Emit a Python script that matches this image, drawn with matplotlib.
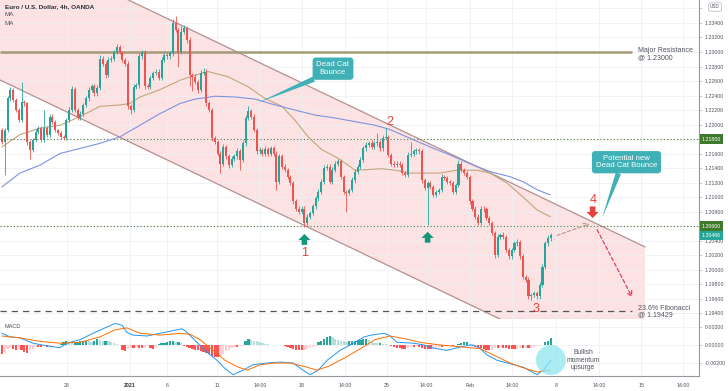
import numpy as np
import matplotlib.pyplot as plt
import matplotlib.transforms as mtransforms
from matplotlib.patches import Ellipse, Polygon

plt.rcParams['font.family'] = ['Liberation Sans', 'DejaVu Sans']

# ---- EUR/USD 4h candles ----
first_open = 1.2192
closes = [
    1.2176, 1.2192, 1.2236, 1.2248, 1.2234, 1.2220, 1.2206, 1.2231, 1.2229, 1.2176,
    1.2165, 1.2179, 1.2190, 1.2195, 1.2179, 1.2195, 1.2186, 1.2211, 1.2204, 1.2192,
    1.2188, 1.2183, 1.2181, 1.2206, 1.2220, 1.2249, 1.2220, 1.2209, 1.2215, 1.2227,
    1.2236, 1.2248, 1.2253, 1.2243, 1.2251, 1.2291, 1.2284, 1.2268, 1.2289, 1.2291,
    1.2300, 1.2307, 1.2300, 1.2289, 1.2284, 1.2225, 1.2220, 1.2252, 1.2254, 1.2294,
    1.2300, 1.2253, 1.2252, 1.2264, 1.2271, 1.2273, 1.2264, 1.2289, 1.2296, 1.2294,
    1.2298, 1.2340, 1.2330, 1.2300, 1.2328, 1.2333, 1.2317, 1.2268, 1.2266, 1.2259,
    1.2248, 1.2271, 1.2273, 1.2229, 1.2220, 1.2181, 1.2176, 1.2160, 1.2146, 1.2169,
    1.2156, 1.2144, 1.2153, 1.2156, 1.2163, 1.2151, 1.2174, 1.2209, 1.2218, 1.2211,
    1.2192, 1.2163, 1.2165, 1.2160, 1.2166, 1.2160, 1.2167, 1.2160, 1.2121, 1.2156,
    1.2142, 1.2137, 1.2128, 1.2119, 1.2094, 1.2084, 1.2080, 1.2084, 1.2064, 1.2073,
    1.2078, 1.2087, 1.2098, 1.2107, 1.2121, 1.2140, 1.2142, 1.2121, 1.2137, 1.2146,
    1.2149, 1.2128, 1.2107, 1.2106, 1.2110, 1.2123, 1.2135, 1.2142, 1.2151, 1.2167,
    1.2172, 1.2174, 1.2169, 1.2174, 1.2176, 1.2167, 1.2181, 1.2183, 1.2158, 1.2146,
    1.2144, 1.2146, 1.2144, 1.2133, 1.2130, 1.2158, 1.2160, 1.2163, 1.2165, 1.2163,
    1.2123, 1.2112, 1.2119, 1.2114, 1.2103, 1.2107, 1.2110, 1.2128, 1.2126, 1.2121,
    1.2119, 1.2107, 1.2117, 1.2146, 1.2137, 1.2133, 1.2128, 1.2094, 1.2084, 1.2073,
    1.2064, 1.2084, 1.2083, 1.2071, 1.2064, 1.2050, 1.2020, 1.2045, 1.2048, 1.2045,
    1.2027, 1.2018, 1.2027, 1.2036, 1.2038, 1.2018, 1.1990, 1.1986, 1.1963, 1.1965,
    1.1967, 1.1963, 1.1979, 1.2004, 1.2036, 1.2043, 1.2047,
]
# wick lengths in pips beyond the body
upper_wick = [
    3, 3, 3, 4, 2, 3, 3, 28, 3, 2,
    3, 3, 4, 3, 3, 25, 3, 4, 3, 2,
    2, 3, 2, 3, 4, 4, 3, 3, 3, 3,
    3, 4, 3, 3, 3, 5, 3, 3, 4, 3,
    3, 4, 3, 2, 3, 3, 3, 4, 3, 4,
    3, 3, 3, 4, 3, 3, 3, 4, 3, 3,
    3, 5, 10, 3, 8, 4, 3, 3, 3, 4,
    3, 4, 5, 3, 3, 3, 3, 3, 3, 4,
    3, 3, 3, 3, 4, 3, 4, 4, 7, 3,
    3, 3, 4, 3, 4, 3, 4, 3, 3, 4,
    3, 3, 3, 3, 3, 3, 3, 4, 3, 4,
    3, 4, 4, 4, 4, 4, 3, 3, 4, 4,
    3, 3, 3, 3, 3, 4, 4, 4, 4, 4,
    4, 3, 4, 3, 12, 3, 4, 12, 3, 3,
    3, 3, 3, 3, 3, 4, 16, 3, 3, 3,
    3, 3, 3, 3, 3, 3, 3, 4, 3, 3,
    3, 3, 3, 5, 3, 3, 3, 3, 3, 3,
    3, 4, 3, 3, 3, 3, 3, 4, 3, 4,
    3, 3, 3, 4, 4, 3, 3, 3, 3, 3,
    3, 3, 4, 4, 4, 4, 4,
]
lower_wick = [
    3, 46, 3, 3, 3, 3, 3, 3, 3, 4,
    12, 3, 3, 3, 3, 3, 3, 3, 3, 3,
    3, 3, 3, 3, 3, 3, 3, 3, 3, 3,
    3, 3, 3, 3, 3, 3, 3, 4, 3, 3,
    3, 3, 3, 3, 3, 4, 5, 3, 3, 3,
    3, 4, 3, 3, 3, 3, 3, 3, 3, 3,
    3, 3, 3, 20, 3, 3, 5, 15, 20, 3,
    4, 3, 3, 4, 3, 4, 3, 4, 13, 3,
    3, 4, 3, 3, 3, 14, 3, 3, 3, 3,
    3, 3, 3, 3, 3, 3, 3, 3, 11, 3,
    3, 3, 3, 3, 3, 3, 3, 3, 6, 3,
    3, 3, 3, 3, 3, 3, 3, 3, 3, 3,
    3, 3, 3, 26, 3, 3, 3, 3, 3, 3,
    3, 3, 3, 3, 3, 3, 3, 3, 3, 3,
    3, 3, 3, 3, 3, 3, 3, 3, 3, 3,
    3, 3, 51, 3, 3, 3, 3, 3, 3, 3,
    3, 3, 3, 3, 3, 3, 3, 3, 3, 3,
    3, 3, 3, 3, 3, 3, 4, 3, 3, 3,
    3, 3, 3, 3, 3, 3, 3, 3, 3, 5,
    3, 3, 3, 3, 3, 3, 3,
]

# moving averages (sampled along the curves)
ma_fast_x = [0, 6.4, 13.6, 20.7, 27.9, 35, 42.1, 45.7, 49.3, 56.4, 63.6, 68.9, 73.6, 80.7, 87.9,
             93.9, 100, 104.6, 109.3, 114.3, 118.9, 123.6, 126, 130.7, 135.7, 140.4, 145.7, 156.4,
             162.5, 169.6, 174.3, 180.4, 186.1, 191.1, 195.7]
ma_fast = [1.2169, 1.2186, 1.2195, 1.2199, 1.2211, 1.2225, 1.2227, 1.2229, 1.2238, 1.2248, 1.2261,
           1.2268, 1.2273, 1.2266, 1.2252, 1.2236, 1.2225, 1.2206, 1.2183, 1.2165, 1.2156, 1.2144,
           1.2137, 1.2138, 1.2139, 1.2137, 1.2133, 1.2133, 1.2137, 1.2137, 1.2133, 1.2119, 1.2100,
           1.2082, 1.2073]
ma_slow_x = [0, 6.4, 13.6, 20.7, 27.9, 35, 42.1, 49.3, 56.4, 63.6, 68.9, 76.1, 83.2, 90.4, 97.5,
             104.6, 111.8, 118.9, 126, 133.2, 138.6, 145.7, 152.9, 160, 167.1, 174.3, 181.4, 186.1,
             191.1, 195.7]
ma_slow = [1.2114, 1.2133, 1.2144, 1.2160, 1.2167, 1.2174, 1.2183, 1.2199, 1.2215, 1.2229, 1.2235,
           1.2239, 1.2238, 1.2235, 1.2227, 1.2220, 1.2213, 1.2209, 1.2204, 1.2199, 1.2193, 1.2181,
           1.2169, 1.2158, 1.2146, 1.2135, 1.2128, 1.2121, 1.2110, 1.2103]

# MACD (units of 0.0001)
macd_hist = [
    -10, -9, -4.5, -3, -4, -5, -4, -6, -8, -9,
    -6, -4, -2, -2, -2, -1.5, -2, -1.5, -1, 0.5,
    -0.5, 1, 3, 4, 3, 2, 2, 3, 4, 4.5,
    5, 4, 3, 5, 6.5, 6, 5, 5, 4, 3,
    2, 1, 0.5, -5, -7, -4, -3, -3, -2, -3,
    -3, -2, -1, -3, -4, -3, 1, 2, 2, 3,
    4, 4, 3, 3, 2, -1, -2, -3, -4, -5,
    -5, -7, -8, -9, -10, -12, -13, -13, -12, -10,
    -7, -5, -3, -2, -2, -1.5, -1, 4, 6.5, 6,
    5, 4, 3, 2, 1.5, 1, 0.5, -0.5, 0.5, 0.3,
    -0.3, -1, -2, -3, -4, -5, -6, -6, -5, -4,
    -3, -2, -1, 3, 5, 7, 9, 10, 9, 7,
    6, 5, 4, 3, 4, 5, 5, 5.5, 6, 6.5,
    7, 6, 3, 2.5, 2, 2, 1.5, 1, 0.5, -1,
    -2, -3, -3.5, -4, -4, -3, -2, -2, -1.5, -2,
    -3, -4, -4.5, -4.5, -4, -3, -2, -2, -1.5, -1.5,
    -1, -1, -0.5, 1, 2, 3, 3, 1.5, 1, -1,
    -2, -3, -4, -5, -5.5, -5, -3, -3, -2.5, -3,
    -3.5, -4, -4.5, -4.5, -4, -3.5, -3.5, -3, -3.5, -3,
    -2, -1.5, -1, -0.5, 3, 5, 7.5,
]
macd_x = [0, 2.9, 6.4, 11.1, 16.1, 20.7, 23.2, 27.9, 32.5, 37.5, 40.4, 42.9, 44.6, 46.8, 51.8,
          56.4, 61.1, 64.3, 66.1, 69.6, 73.2, 76.8, 79.6, 82.5, 86.1, 89.6, 94.6, 99.3, 103.9,
          107.5, 110, 112.9, 116.1, 120.7, 126.1, 129.3, 131.8, 136.4, 138.2, 141.1, 147.1,
          150.7, 153.2, 158.9, 163.9, 167.5, 170.4, 173.2, 176.8, 182.9, 186.4, 189.3, 191.1,
          193.6, 196]
macd_line = [13, 9, 8, 2, -1, -3, 2, 6, 13, 20, 24, 22, 14, 11, 10, 13, 16, 18, 14, 3, -8, -17,
             -26, -33, -28, -22, -20, -19, -20, -28, -33, -28, -17, -6, 3, 9, 11, 13, 11, 3, 2,
             0, -3, -6, -2, 0, -3, -11, -17, -22, -25, -30, -33, -27, -17]
signal_x = [0, 6.4, 13.6, 20.7, 27.9, 35, 40.4, 44.6, 49.3, 56.4, 63.6, 67.1, 70.7, 75.4, 79.6,
            83.9, 87.5, 92.1, 97.5, 102.9, 108.2, 112.5, 117.1, 122.5, 128.6, 133.2, 138.6,
            143.9, 149.3, 156.4, 163.6, 170.7, 176.1, 181.4, 186.8, 191.1, 195.4]
signal_line = [10, 8, 4, 2, 3, 9, 17, 19, 13, 11, 13, 12, 6, -6, -17, -24, -28, -22, -20, -20,
               -24, -28, -23, -14, -3, 6, 10, 7, 3, 0, -2, -4, -12, -20, -26, -30, -28]

# time axis labels (candle positions)
tick_pos = [23.2, 45.7, 58.9, 76.8, 92.1, 107.1, 122.5, 137.5, 151.4, 167.1, 182.1, 197.9,
            213.2, 228.2, 243.2]
tick_labels = ['28', '2021', '6', '11', '14:00', '18', '14:00', '25', '14:00', 'Feb', '14:00',
               '8', '14:00', '15', '14:00']

major_res = 1.23000
level_hi = 1.21800
level_lo = 1.20600
fib_236 = 1.19429
last_price = 1.20466

# descending channel (start/end of the two drawn lines)
chan_x = [-0.7, 229.6]
chan_top = [1.24564, 1.20312]
chan_bot = [1.22614, 1.18361]

# ---- derived OHLC ----
closes = np.array(closes)
opens = np.r_[first_open, closes[:-1]]
highs = np.maximum(opens, closes) + np.array(upper_wick) * 1e-4
lows = np.minimum(opens, closes) - np.array(lower_wick) * 1e-4
idx = np.arange(len(closes))
up = closes >= opens

GREEN = '#26a69a'
RED = '#ef5350'
TEAL = '#3fb0b5'
NUMRED = '#e8403a'
TXT = '#50535e'
AXFS = 3.8

fig = plt.figure(figsize=(7.28, 3.91), dpi=100)
ax = fig.add_axes([0, 0.1841, 0.9602, 0.8159])
axm = fig.add_axes([0, 0.0384, 0.9602, 0.1457], sharex=ax)

# channel
poly = Polygon([(chan_x[0], chan_top[0]), (chan_x[1], chan_top[1]),
                (chan_x[1], chan_bot[1]), (chan_x[0], chan_bot[0])],
               closed=True, fc='#fce2e2', ec='none', zorder=0.5)
ax.add_patch(poly)
ax.plot(chan_x, chan_top, color='#b58f8f', lw=0.9, zorder=2)
ax.plot(chan_x, chan_bot, color='#b58f8f', lw=0.9, zorder=2)

# levels
ax.hlines(major_res, -0.7, 225, color='#a39a78', lw=1.8, zorder=2)
ax.axhline(level_hi, color='#4f7a3a', lw=0.8, ls=(0, (1, 2)), zorder=2)
ax.axhline(level_lo, color='#4f7a3a', lw=0.8, ls=(0, (1, 2)), zorder=2)
ax.hlines(fib_236, -0.7, 225, color='#555555', lw=0.9, ls=(0, (5, 4)), zorder=2)

# moving averages
ax.plot(ma_fast_x, ma_fast, color='#c4a47c', lw=0.8, zorder=3)
ax.plot(ma_slow_x, ma_slow, color='#7d93e0', lw=0.8, zorder=3)

# candles
colors = np.where(up, GREEN, RED)
ax.vlines(idx, lows, highs, colors=colors, lw=0.6, zorder=4)
body = np.maximum(np.abs(closes - opens), 0.00006)
ax.bar(idx, body, bottom=np.minimum(opens, closes), width=0.75, color=colors,
       edgecolor='none', zorder=4)

# annotations
ax.annotate('Dead Cat\nBounce', xy=(91.4, 1.2230), xytext=(118.2, 1.2277),
            ha='center', va='center', fontsize=5.6, color='white', linespacing=1.1,
            bbox=dict(boxstyle='round,pad=0.5,rounding_size=0.4', fc=TEAL, ec='none'),
            arrowprops=dict(arrowstyle='wedge,tail_width=0.7', fc=TEAL, ec='none',
                            relpos=(0.25, 0.1), shrinkA=0, shrinkB=0), zorder=6)
ax.annotate('Potential new\nDead Cat Bounce', xy=(214.3, 1.2071), xytext=(223, 1.2148),
            ha='center', va='center', fontsize=5.6, color='white', linespacing=1.1,
            bbox=dict(boxstyle='round,pad=0.5,rounding_size=0.4', fc=TEAL, ec='none'),
            arrowprops=dict(arrowstyle='wedge,tail_width=0.7', fc=TEAL, ec='none',
                            relpos=(0.4, 0.1), shrinkA=0, shrinkB=0), zorder=6)

arrow_up = dict(arrowstyle='simple,head_length=0.55,head_width=1.1,tail_width=0.5',
                fc='#13977a', ec='none', mutation_scale=8, shrinkA=0, shrinkB=0)
for k in (108, 152):
    ax.annotate('', xy=(k, lows[k] - 0.0009), xytext=(k, lows[k] - 0.0024),
                arrowprops=arrow_up, zorder=6)
ax.text(108, lows[108] - 0.0035, '1', color=NUMRED, fontsize=9, ha='center', va='center',
        zorder=6)
ax.text(138.6, highs[137] + 0.0008, '2', color=NUMRED, fontsize=9, ha='center',
        va='center', zorder=6)
ax.text(190.7, lows[189] - 0.0012, '3', color=NUMRED, fontsize=9, ha='center', va='center',
        zorder=6)
ax.text(211.2, 1.2096, '4', color=NUMRED, fontsize=9, ha='center', va='center', zorder=6)
ax.annotate('', xy=(210.9, 1.2071), xytext=(210.9, 1.2087),
            arrowprops=dict(arrowstyle='simple,head_length=0.55,head_width=1.1,tail_width=0.5',
                            fc=NUMRED, ec='none', mutation_scale=8, shrinkA=0, shrinkB=0),
            zorder=6)

ax.annotate('', xy=(209.8, 1.2063), xytext=(198.2, closes[-1]),
            arrowprops=dict(arrowstyle='->,head_length=0.35,head_width=0.2', color='#b59a88',
                            lw=0.8, ls=(0, (3, 2)), shrinkA=0, shrinkB=0), zorder=5)
ax.annotate('', xy=(225, 1.1962), xytext=(212.5, 1.2055),
            arrowprops=dict(arrowstyle='->,head_length=0.35,head_width=0.2', color='#e04060',
                            lw=0.9, ls=(0, (3, 2)), shrinkA=0, shrinkB=0), zorder=5)

ax.text(227.1, 1.2297, 'Major Resistance\n@ 1.23000', fontsize=5, color=TXT,
        ha='left', va='center', linespacing=1.0)
ax.text(227.1, 1.1942, '23.6% Fibonacci\n@ 1.19429', fontsize=5, color=TXT,
        ha='left', va='center', linespacing=1.0)

ax.text(0.007, 0.979, 'Euro / U.S. Dollar, 4h, OANDA', transform=ax.transAxes,
        fontsize=4.6, color='#2a2e39', va='center', fontweight='bold')
ax.text(0.007, 0.953, 'MA', transform=ax.transAxes, fontsize=4.5, color=TXT, va='center')
ax.text(0.007, 0.927, 'MA', transform=ax.transAxes, fontsize=4.5, color=TXT, va='center')

# price axis (labels under the level boxes / currency box are left blank)
price_ticks = np.round(np.arange(1.194, 1.2361, 0.002), 3)
covered = (level_hi, level_lo, 1.236)
ax.set_xlim(-0.7, 248.9)
ax.set_ylim(1.193172, 1.237172)
ax.set_yticks(price_ticks)
ax.set_yticklabels(['' if any(abs(p - c) < 1e-6 for c in covered) else f'{p:.5f}'
                    for p in price_ticks])
ax.yaxis.tick_right()
ax.tick_params(axis='y', labelsize=AXFS, colors=TXT, length=2, width=0.5, pad=2)
ax.tick_params(axis='y', which='both', color='#b2b5be')
ax.tick_params(axis='x', labelbottom=False, length=0)
ax.set_xticks(tick_pos)
ax.grid(True, color='#eef0f4', lw=0.6)
ax.set_axisbelow('line')
for s in ('left', 'top'):
    ax.spines[s].set_visible(False)
ax.spines['right'].set_color('#9598a1')
ax.spines['right'].set_linewidth(0.8)
ax.spines['bottom'].set_color('#c4c6cc')
ax.spines['bottom'].set_linewidth(0.8)

trans = mtransforms.blended_transform_factory(ax.transAxes, ax.transData)
for val, fc in ((level_hi, '#3f7a2c'), (level_lo, '#3f7a2c'), (last_price, '#26a69a')):
    ax.text(1.004, val, f'{val:.5f}', transform=trans, fontsize=AXFS, color='white',
            ha='left', va='center', clip_on=False, zorder=10,
            bbox=dict(boxstyle='square,pad=0.4', fc=fc, ec='none'))
fig.text(715 / 728, 1 - 7 / 391, 'USD', fontsize=3.4, color=TXT, ha='center', va='center',
         bbox=dict(boxstyle='round,pad=0.35', fc='white', ec='#b2b5be', lw=0.5), zorder=10)

# MACD panel
hist = np.array(macd_hist)
prev = np.r_[hist[0], hist[:-1]]
hcol = np.where(hist >= 0, np.where(hist >= prev, '#26a69a', '#b2dfdb'),
                np.where(hist <= prev, '#ff5252', '#ffcdd2'))
axm.bar(idx, hist * 1e-4, width=0.8, color=hcol, edgecolor='none', zorder=2)
axm.plot(macd_x, np.array(macd_line) * 1e-4, color='#2196f3', lw=0.7, zorder=3)
axm.plot(signal_x, np.array(signal_line) * 1e-4, color='#ff6d00', lw=0.7, zorder=3)
axm.add_patch(Ellipse((196, -0.00167), width=10.7, height=0.00333, fc='#8fe6ef', ec='none',
                      alpha=0.75, zorder=4))
axm.text(207.5, -0.00167, 'Bullish\nmomentum\nupsurge', fontsize=4.8, color=TXT,
         ha='center', va='center', linespacing=1.05)
axm.text(0.007, 0.86, 'MACD', transform=axm.transAxes, fontsize=4, color=TXT, va='center')

axm.set_ylim(-0.003444, 0.002889)
axm.set_yticks([0.002, 0.0, -0.002])
axm.set_yticklabels(['0.00200', '0.00000', '-0.00200'])
axm.yaxis.tick_right()
axm.tick_params(axis='y', labelsize=AXFS, colors=TXT, length=2, width=0.5, pad=2)
axm.tick_params(axis='y', which='both', color='#b2b5be')
axm.set_xticks(tick_pos)
axm.set_xticklabels(tick_labels)
axm.tick_params(axis='x', labelsize=AXFS, colors=TXT, length=0, pad=5)
for lab in axm.get_xticklabels():
    if lab.get_text() == '2021':
        lab.set_fontweight('bold')
        lab.set_color('#2a2e39')
axm.grid(True, color='#eef0f4', lw=0.6)
axm.set_axisbelow(True)
axm.spines['left'].set_visible(False)
axm.spines['top'].set_visible(False)
axm.spines['right'].set_color('#9598a1')
axm.spines['right'].set_linewidth(0.8)
axm.spines['bottom'].set_color('#9598a1')
axm.spines['bottom'].set_linewidth(0.8)

fig.savefig('out.png', dpi=100)
